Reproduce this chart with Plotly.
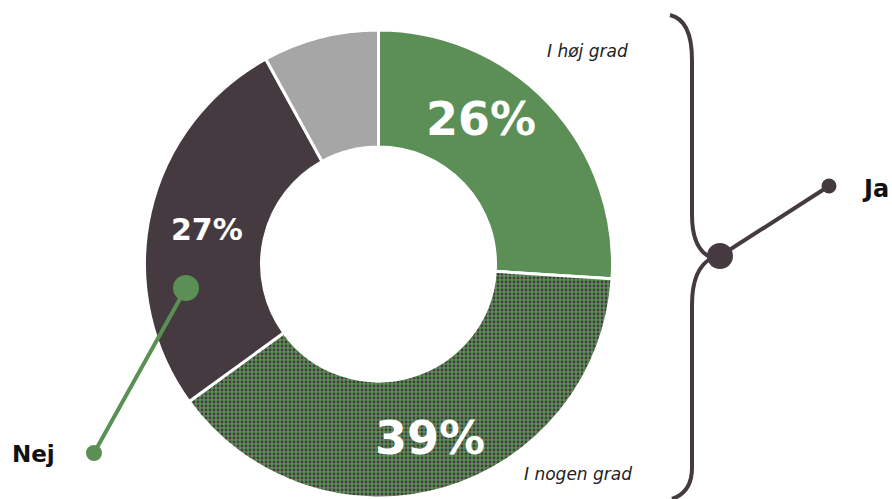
import plotly.graph_objects as go

# Data
categories = ["I høj grad", "I nogen grad", "Nej", "Ved ikke"]
values = [26, 39, 27, 8]
colors = ["#5B8F56", "#5B8F56", "#453A3F", "#A6A6A6"]
pct_labels = [f"{v}%" for v in values[:3]]

W, H = 892, 499
DARK = "#453A3F"
GREEN = "#5B8F56"
FONT = "DejaVu Sans"

fig = go.Figure()
fig.add_trace(go.Pie(
    labels=categories,
    values=values,
    sort=False,
    direction="clockwise",
    rotation=0,
    hole=0.5,
    textinfo="none",
    hoverinfo="label+percent",
    showlegend=False,
    marker=dict(
        colors=colors,
        line=dict(color="white", width=3),
        pattern=dict(
            shape=["", ".", "", ""],
            fgcolor=DARK,
            bgcolor=GREEN,
            size=4,
            solidity=0.38,
            fillmode="replace",
        ),
    ),
    domain=dict(x=[(378.5 - 234) / W, (378.5 + 234) / W], y=[1 - 498 / H, 1 - 30 / H]),
))

# invisible pixel axes for decorations
fig.update_xaxes(range=[0, W], visible=False, fixedrange=True)
fig.update_yaxes(range=[H, 0], visible=False, fixedrange=True)

annos = [
    dict(x=481, y=119, text=pct_labels[0], size=46),
    dict(x=430, y=438, text=pct_labels[1], size=46),
    dict(x=207, y=229, text=pct_labels[2], size=30),
]
for a in annos:
    fig.add_annotation(x=a["x"], y=a["y"], text=f"<b>{a['text']}</b>", showarrow=False,
                       font=dict(family=FONT, size=a["size"], color="white"),
                       xref="x", yref="y")

fig.add_annotation(x=587, y=51, text=f"<i>{categories[0]}</i>", showarrow=False,
                   font=dict(family=FONT, size=17, color="#222222"))
fig.add_annotation(x=578, y=474, text=f"<i>{categories[1]}</i>", showarrow=False,
                   font=dict(family=FONT, size=17, color="#222222"))
fig.add_annotation(x=875, y=189, text="<b>Ja</b>", showarrow=False,
                   font=dict(family=FONT, size=24, color="#111111"))
fig.add_annotation(x=33, y=454, text="<b>Nej</b>", showarrow=False,
                   font=dict(family=FONT, size=23, color="#111111"))

# Brace
brace = "M 670 15 Q 692 20 692 60 L 692 215 Q 692 250 712 258 Q 692 268 692 305 L 692 468 Q 692 492 672 499"
fig.add_shape(type="path", path=brace, line=dict(color=DARK, width=4), xref="x", yref="y")
fig.add_shape(type="line", x0=720, y0=256, x1=829, y1=186, line=dict(color=DARK, width=4))
fig.add_shape(type="circle", x0=720 - 13, y0=256 - 13, x1=720 + 13, y1=256 + 13,
              fillcolor=DARK, line=dict(width=0))
fig.add_shape(type="circle", x0=829 - 7.5, y0=186 - 7.5, x1=829 + 7.5, y1=186 + 7.5,
              fillcolor=DARK, line=dict(width=0))

# Nej connector
fig.add_shape(type="line", x0=186, y0=288, x1=94, y1=453, line=dict(color=GREEN, width=4))
fig.add_shape(type="circle", x0=186 - 13, y0=288 - 13, x1=186 + 13, y1=288 + 13,
              fillcolor=GREEN, line=dict(width=0))
fig.add_shape(type="circle", x0=94 - 8, y0=453 - 8, x1=94 + 8, y1=453 + 8,
              fillcolor=GREEN, line=dict(width=0))

fig.update_layout(
    width=W, height=H,
    margin=dict(l=0, r=0, t=0, b=0),
    paper_bgcolor="white",
    plot_bgcolor="rgba(0,0,0,0)",
)

fig.write_html("out.html", config={"displayModeBar": False},
               post_script="document.body.style.margin='0';document.body.style.overflow='hidden';")
